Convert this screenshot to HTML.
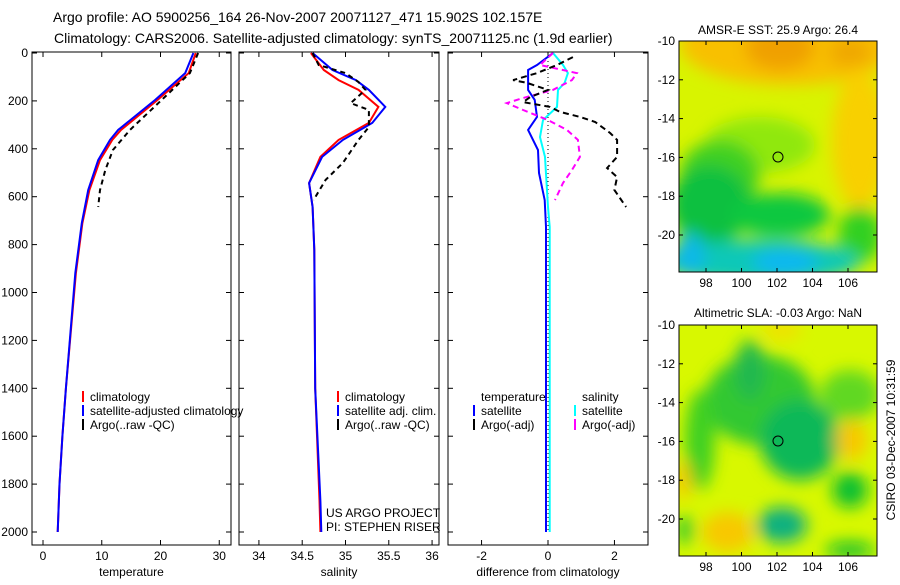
<!DOCTYPE html>
<html><head><meta charset="utf-8"><style>
body{margin:0;background:#fff;}
svg text{font-family:"Liberation Sans",sans-serif;fill:#000;}
</style></head><body>
<svg id="fig" width="900" height="580" viewBox="0 0 900 580" xmlns="http://www.w3.org/2000/svg">
<defs>
<filter id="blur1" x="-20%" y="-20%" width="140%" height="140%"><feGaussianBlur stdDeviation="8"/></filter>
<clipPath id="clipTop"><rect x="679" y="41" width="198" height="231"/></clipPath>
<clipPath id="clipBot"><rect x="679" y="325" width="198" height="231"/></clipPath>
</defs>
<text x="53" y="22" font-size="14">Argo profile: AO 5900256_164 26-Nov-2007 20071127_471 15.902S 102.157E</text>
<text x="54" y="43" font-size="14">Climatology: CARS2006. Satellite-adjusted climatology: synTS_20071125.nc (1.9d earlier)</text>

<g clip-path="url(#clipTop)">
<rect x="679" y="41" width="198" height="231" fill="#d8f400"/>
<g filter="url(#blur1)">
<ellipse cx="790" cy="45" rx="110" ry="40" fill="#f8c000"/>
<ellipse cx="780" cy="48" rx="35" ry="22" fill="#f0a000"/>
<ellipse cx="850" cy="52" rx="22" ry="15" fill="#f0a800"/>
<ellipse cx="860" cy="140" rx="28" ry="70" fill="#f8d000"/>
<ellipse cx="760" cy="145" rx="55" ry="28" fill="#90e810"/>
<ellipse cx="720" cy="175" rx="40" ry="35" fill="#40d020"/>
<ellipse cx="710" cy="205" rx="40" ry="40" fill="#10c040"/>
<ellipse cx="780" cy="215" rx="50" ry="22" fill="#10c840"/>
<ellipse cx="860" cy="235" rx="22" ry="28" fill="#30d020"/>
<ellipse cx="760" cy="262" rx="100" ry="22" fill="#10c8b8"/>
<ellipse cx="785" cy="262" rx="32" ry="14" fill="#10b8f0"/>
<ellipse cx="690" cy="255" rx="15" ry="22" fill="#10b8e8"/>
</g>
</g>
<rect x="679" y="41" width="198" height="231" fill="none" stroke="#000" stroke-width="1"/>
<circle cx="778" cy="157" r="5" fill="none" stroke="#000"/>
<text x="778" y="34" font-size="12" text-anchor="middle">AMSR-E SST: 25.9 Argo: 26.4</text>

<g clip-path="url(#clipBot)">
<rect x="679" y="325" width="198" height="231" fill="#d8f800"/>
<g filter="url(#blur1)">
<ellipse cx="760" cy="400" rx="55" ry="45" fill="#30c830"/>
<ellipse cx="800" cy="440" rx="40" ry="40" fill="#10b858"/>
<ellipse cx="750" cy="370" rx="15" ry="30" fill="#20b850"/>
<ellipse cx="700" cy="440" rx="15" ry="50" fill="#40d020"/>
<ellipse cx="850" cy="395" rx="30" ry="25" fill="#60d820"/>
<ellipse cx="850" cy="490" rx="18" ry="18" fill="#10c030"/>
<ellipse cx="782" cy="525" rx="25" ry="18" fill="#10b080"/>
<ellipse cx="850" cy="550" rx="25" ry="8" fill="#10c030"/>
<ellipse cx="852" cy="440" rx="16" ry="20" fill="#f8c800"/>
<ellipse cx="728" cy="532" rx="26" ry="20" fill="#f8c800"/>
<ellipse cx="782" cy="330" rx="20" ry="10" fill="#f0e000"/>
<ellipse cx="683" cy="480" rx="8" ry="20" fill="#f8c800"/>
<ellipse cx="685" cy="530" rx="8" ry="15" fill="#30c830"/>
</g>
</g>
<rect x="679" y="325" width="198" height="231" fill="none" stroke="#000" stroke-width="1"/>
<circle cx="778" cy="441" r="5" fill="none" stroke="#000"/>
<text x="778" y="317" font-size="12" text-anchor="middle">Altimetric SLA: -0.03 Argo: NaN</text>
<text transform="translate(895,440) rotate(-90)" font-size="12" text-anchor="middle">CSIRO 03-Dec-2007 10:31:59</text>
<g id="mapticks"></g>
<g id="panels"></g>
</svg>
<script>
// ---- data ----
const depthTicks = [0,200,400,600,800,1000,1200,1400,1600,1800,2000];
const tempTicks = [0,10,20,30];
const salTicks = [34,34.5,35,35.5,36];
const diffTicks = [-2,0,2];
const lonTicks = [98,100,102,104,106];
const latTicks = [-10,-12,-14,-16,-18,-20];

const climDepth = [0,84,196,321,363,447,572,710,919,1400,1600,1800,2000];
const tempClim  = [26.0,24.8,19.5,13.3,11.8,9.7,7.9,6.7,5.6,3.9,3.3,2.8,2.5];
const tempSat   = [25.6,24.2,19.1,12.8,11.4,9.4,7.7,6.6,5.5,3.9,3.3,2.8,2.5];
const argoTDepth = [0,84,196,321,405,489,572,643];
const tempArgo   = [26.4,25.0,20.2,14.8,11.9,10.6,9.7,9.4];

const salDepth = [0,71,113,154,225,292,363,434,543,643,822,1400,1870,2000];
const salClim  = [34.60,34.75,34.92,35.15,35.38,35.27,34.92,34.71,34.58,34.62,34.64,34.65,34.70,34.71];
const salSat   = [34.62,34.85,35.12,35.27,35.46,35.31,34.97,34.73,34.58,34.62,34.64,34.65,34.71,34.72];
const argoSDepth = [0,50,84,121,154,209,238,309,363,459,530,614];
const salArgo    = [34.62,34.69,35.0,35.15,35.23,35.06,35.27,35.27,35.15,34.97,34.77,34.63];

const dTDepth = [0,50,71,154,196,267,321,405,501,614,726,1500,2000];
const dTSat   = [0.15,-0.33,-0.6,-0.6,-0.4,-0.33,-0.6,-0.3,-0.27,-0.1,-0.06,-0.06,-0.06];
const dSDepth = [0,50,84,125,154,225,280,351,434,643,726,2000];
const dSSat   = [0.15,0.45,0.6,0.5,0.3,0.27,-0.15,-0.24,-0.09,0.0,0.05,0.05];
const dSArgoDepth = [0,50,84,113,154,188,209,238,280,321,363,434,489,543,614];
const dSArgo      = [0.15,-0.24,0.87,0.72,0.15,-0.75,-1.24,-0.75,0,0.57,0.9,0.96,0.72,0.45,0.21];
const dTArgoDepth = [17,50,84,113,125,154,184,205,225,246,267,288,334,363,434,480,518,572,643];
const dTArgo      = [0.75,0.27,-0.33,-1.05,-0.63,0,-0.54,-0.75,0.06,0.36,0.96,1.42,1.87,2.08,2.08,1.78,2.08,2.0,2.35];

const NS='http://www.w3.org/2000/svg';
const root=document.getElementById('panels');
function mk(tag,attrs,parent){const e=document.createElementNS(NS,tag);for(const k in attrs)e.setAttribute(k,attrs[k]);(parent||root).appendChild(e);return e;}
const yTop=53, yScale=0.2395;
function yD(d){return yTop+d*yScale;}

function panel(name,x0,x1,xmin,xmax,ticks,label,showDepth){
  const g=mk('g',{});
  
  
  const fx=v=>x0+(v-xmin)/(xmax-xmin)*(x1-x0);
  const fr=mk('rect',{x:x0,y:52,width:x1-x0,height:493,fill:'none',stroke:'#000','stroke-width':1},g);
  
  
  depthTicks.forEach(d=>{
    const y=yD(d);
    mk('line',{x1:x0,x2:x0+5,y1:y,y2:y,stroke:'#000'},g);
    mk('line',{x1:x1-5,x2:x1,y1:y,y2:y,stroke:'#000'},g);
    if(showDepth){const t=mk('text',{x:x0-4,y:y+4,'font-size':12,'text-anchor':'end'},g);t.textContent=d;
      
      }
  });
  ticks.forEach(v=>{
    const x=fx(v);
    mk('line',{x1:x,x2:x,y1:545,y2:540,stroke:'#000'},g);
    mk('line',{x1:x,x2:x,y1:52,y2:57,stroke:'#000'},g);
    const t=mk('text',{x:x,y:560,'font-size':12,'text-anchor':'middle'},g);t.textContent=v;
    
    
  });
  const t=mk('text',{x:(x0+x1)/2,y:576,'font-size':12,'text-anchor':'middle'},g);t.textContent=label;
  
  
  return {g,fx};
}
function line(p,vals,depths,color,dash,name,w){
  const pts=vals.map((v,i)=>p.fx(v).toFixed(1)+','+yD(depths[i]).toFixed(1)).join(' ');
  const a={points:pts,fill:'none',stroke:color,'stroke-width':w||2};
  if(dash)a['stroke-dasharray']=dash;
  const e=mk('polyline',a,p.g);
  
  
}
function legend(p,x,y,color,text,name){
  if(color){const m=mk('line',{x1:x,x2:x,y1:y-10,y2:y+1,stroke:color,'stroke-width':2},p.g);
    
    }
  const t=mk('text',{x:x+7,y:y,'font-size':12},p.g);t.textContent=text;
  
  
}

const p1=panel('temperature-panel',32,231,-1.875,32,tempTicks,'temperature',true);
line(p1,tempClim,climDepth,'#ff0000',null,'temp-climatology-line');
line(p1,tempSat,climDepth,'#0000ff',null,'temp-satellite-line');
line(p1,tempArgo,argoTDepth,'#000',"5,4",'temp-argo-line');
legend(p1,83,401,'#ff0000','climatology','legend-climatology');
legend(p1,83,415,'#0000ff','satellite-adjusted climatology','legend-satellite');
legend(p1,83,429,'#000','Argo(..raw -QC)','legend-argo');

const p2=panel('salinity-panel',239,439,33.77,36.08,salTicks,'salinity',false);
line(p2,salClim,salDepth,'#ff0000',null,'sal-climatology-line');
line(p2,salSat,salDepth,'#0000ff',null,'sal-satellite-line');
line(p2,salArgo,argoSDepth,'#000',"5,4",'sal-argo-line');
legend(p2,338,401,'#ff0000','climatology','legend-sal-climatology');
legend(p2,338,415,'#0000ff','satellite adj. clim.','legend-sal-satellite');
legend(p2,338,429,'#000','Argo(..raw -QC)','legend-sal-argo');
legend(p2,319,517,null,'US ARGO PROJECT','project-label');
legend(p2,319,531,null,'PI: STEPHEN RISER','pi-label');

const p3=panel('difference-panel',448,648,-3.01,3.01,diffTicks,'difference from climatology',false);
const z=mk('line',{x1:p3.fx(0),x2:p3.fx(0),y1:yD(0),y2:yD(2000),stroke:'#000','stroke-dasharray':'1,3'},p3.g);


line(p3,dSSat,dSDepth,'#00ffff',null,'sal-diff-satellite-line');
line(p3,dTSat,dTDepth,'#0000ff',null,'temp-diff-satellite-line');
line(p3,dSArgo,dSArgoDepth,'#ff00ff',"6,4",'sal-diff-argo-line');
line(p3,dTArgo,dTArgoDepth,'#000',"6,4",'temp-diff-argo-line');
legend(p3,474,401,null,'temperature','legend-temperature-head');
legend(p3,474,415,'#0000ff','satellite','legend-temp-satellite');
legend(p3,474,429,'#000','Argo(-adj)','legend-temp-argo');
legend(p3,575,401,null,'salinity','legend-salinity-head');
legend(p3,575,415,'#00ffff','satellite','legend-sal-satellite-diff');
legend(p3,575,429,'#ff00ff','Argo(-adj)','legend-sal-argo-diff');

// map ticks
const mt=document.getElementById('mapticks');
[[41,272],[325,556]].forEach(([top,bot])=>{
  lonTicks.forEach(l=>{
    const x=706+(l-98)*17.75;
    mk('line',{x1:x,x2:x,y1:bot,y2:bot-4,stroke:'#000'},mt);
    mk('line',{x1:x,x2:x,y1:top,y2:top+4,stroke:'#000'},mt);
    const t=mk('text',{x:x,y:bot+15,'font-size':12,'text-anchor':'middle'},mt);t.textContent=l;
    
    
  });
  latTicks.forEach(l=>{
    const y=top+(-10-l)*19.4;
    mk('line',{x1:679,x2:683,y1:y,y2:y,stroke:'#000'},mt);
    mk('line',{x1:873,x2:877,y1:y,y2:y,stroke:'#000'},mt);
    const t=mk('text',{x:675,y:y+4,'font-size':12,'text-anchor':'end'},mt);t.textContent=l;
    
    
  });
});
</script>
</body></html>
